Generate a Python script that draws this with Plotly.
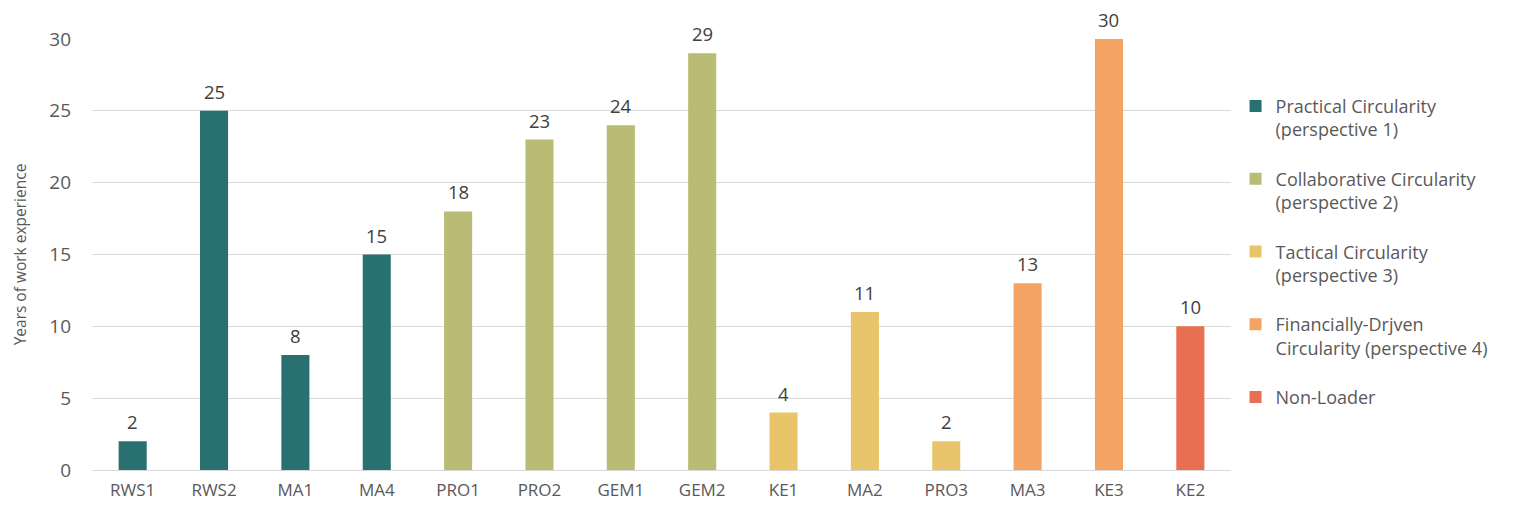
import plotly.graph_objects as go

categories = ["RWS1", "RWS2", "MA1", "MA4", "PRO1", "PRO2", "GEM1", "GEM2",
              "KE1", "MA2", "PRO3", "MA3", "KE3", "KE2"]

groups = [
    "Practical Circularity<br>(perspective 1)",
    "Collaborative Circularity<br>(perspective 2)",
    "Tactical Circularity<br>(perspective 3)",
    "Financially-Drjven<br>Circularity (perspective 4)",
    "Non-Loader",
]
group_cats = [
    ["RWS1", "RWS2", "MA1", "MA4"],
    ["PRO1", "PRO2", "GEM1", "GEM2"],
    ["KE1", "MA2", "PRO3"],
    ["MA3", "KE3"],
    ["KE2"],
]
group_vals = [
    [2, 25, 8, 15],
    [18, 23, 24, 29],
    [4, 11, 2],
    [13, 30],
    [10],
]
colors = ["#297170", "#BABC76", "#E8C56A", "#F4A462", "#E86F51"]

FONT = "Open Sans, Noto Sans, Arial, sans-serif"

fig = go.Figure()
for i, (name, cats, vals, col) in enumerate(zip(groups, group_cats, group_vals, colors)):
    fig.add_trace(go.Bar(
        x=cats, y=vals, name=name, marker_color=col, legendgroup=f"g{i}",
        marker_line_width=0, width=0.345,
    ))
    for c, v in zip(cats, vals):
        fig.add_annotation(x=c, y=v, text=str(v), showarrow=False,
                           yanchor="bottom", yshift=5,
                           font=dict(size=18.5, color="#404040", family=FONT))

fig.update_layout(
    width=1515, height=507,
    barmode="overlay",
    paper_bgcolor="white", plot_bgcolor="white",
    margin=dict(l=82, r=292, t=31, b=45),
    font=dict(family=FONT, color="#595959"),
    legend=dict(x=1.004, y=0.887, yanchor="top", xanchor="left",
                font=dict(size=18, color="#595959", family=FONT), valign="top",
                tracegroupgap=23, itemwidth=30),
    showlegend=True,
)
fig.update_xaxes(categoryorder="array", categoryarray=categories,
                 tickfont=dict(size=17, color="#595959"),
                 showline=True, linecolor="#d9d9d9", ticks="",
                 ticklabelstandoff=5)
fig.update_yaxes(range=[0, 30], dtick=5, showgrid=True, gridcolor="#d9d9d9",
                 zeroline=False, tickfont=dict(size=19, color="#595959"),
                 title=dict(text="Years of work experience", font=dict(size=15.5, color="#595959"),
                            standoff=18),
                 ticklabelstandoff=20)

fig.write_html("out.html")
